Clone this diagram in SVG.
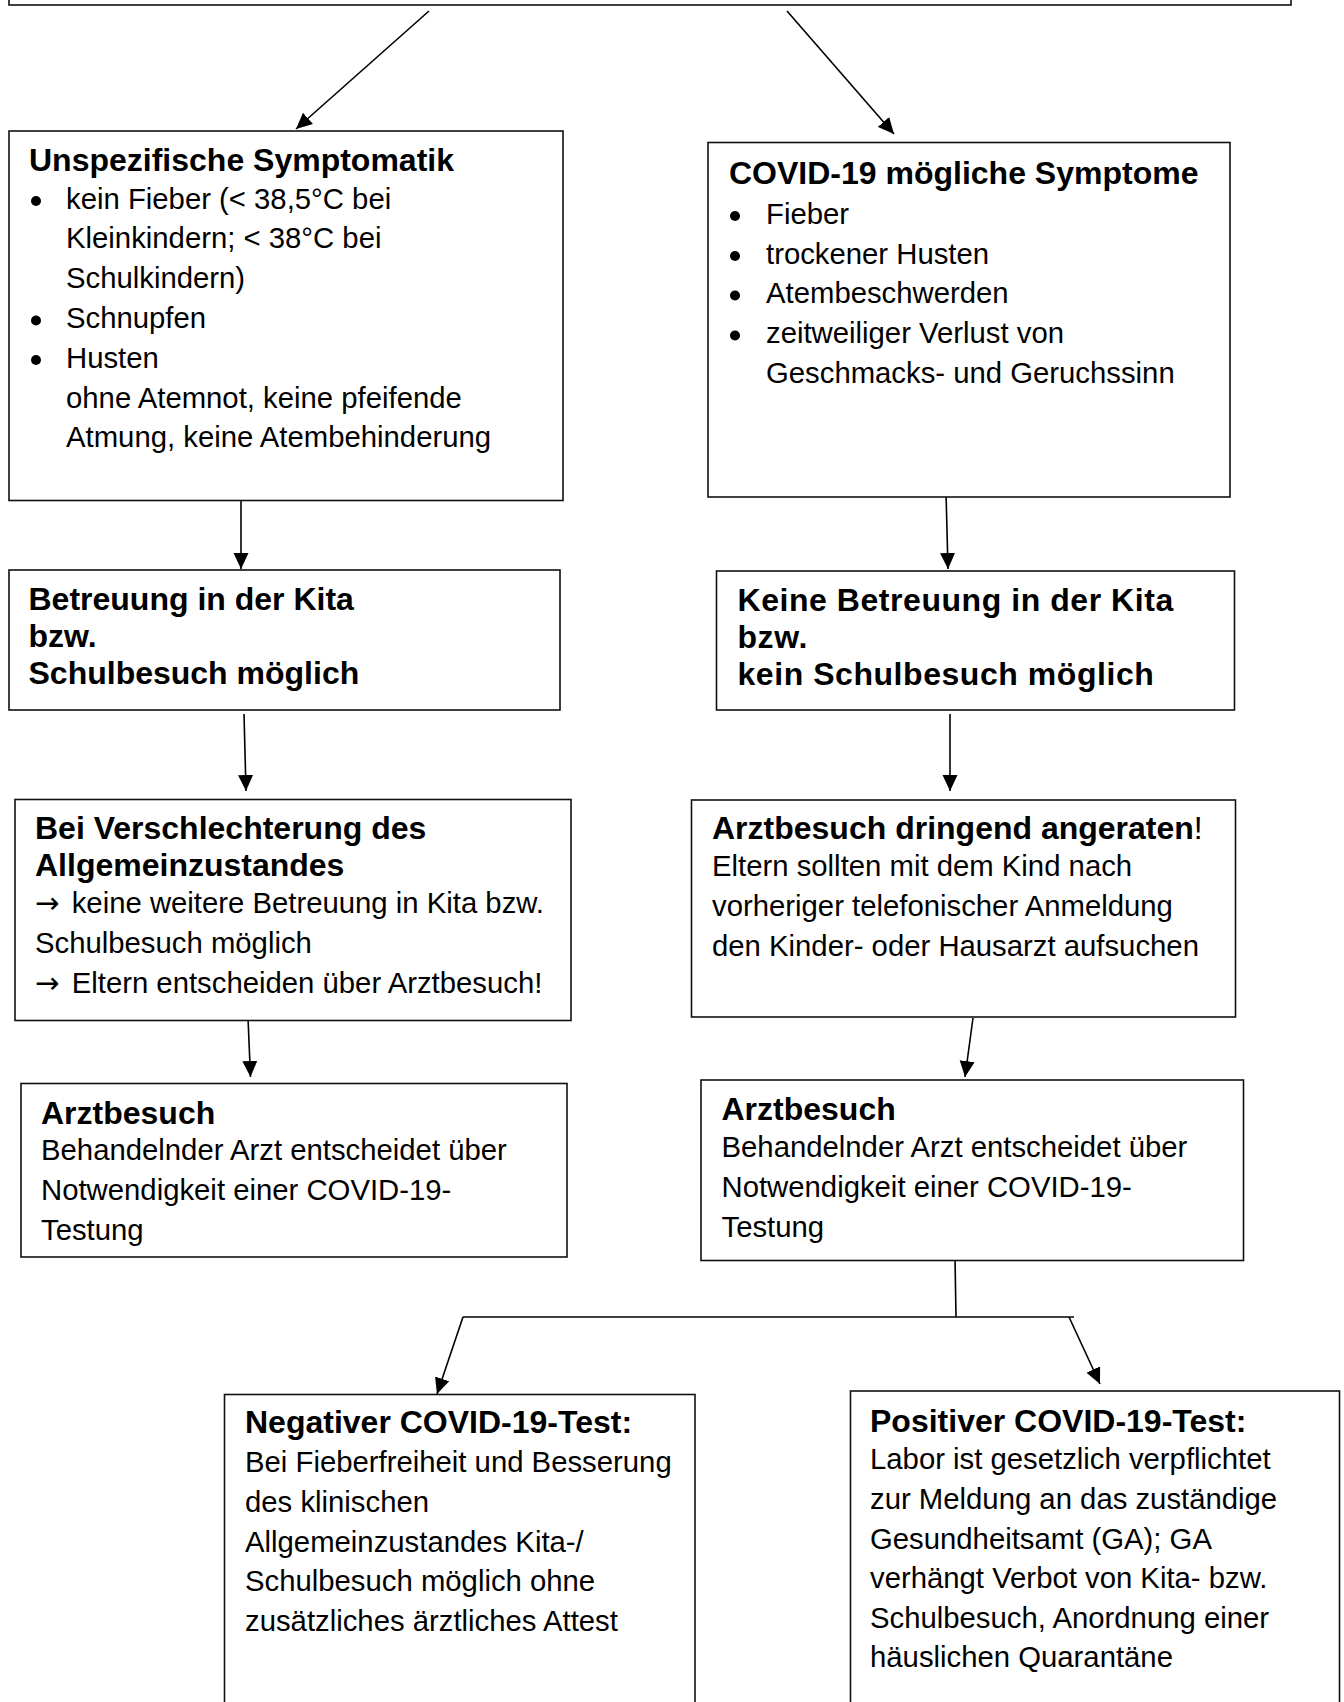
<svg xmlns="http://www.w3.org/2000/svg" width="1344" height="1702" viewBox="0 0 1344 1702">
<style>
.box{fill:#fff;stroke:#111;stroke-width:1.6}
.h{font-family:"Liberation Sans",Arial,sans-serif;font-weight:bold;font-size:32px;fill:#000}
.t{font-family:"Liberation Sans",Arial,sans-serif;font-size:29.3px;fill:#000}
.ar{font-family:"DejaVu Sans",sans-serif}
.con{stroke:#000;stroke-width:1.6;fill:none}
.bul{fill:#000}
</style>
<defs>
<marker id="arr" markerUnits="userSpaceOnUse" markerWidth="17" markerHeight="16" refX="16" refY="8" orient="auto">
<path d="M0,0.5 L16,8 L0,15.5 Z" fill="#000"/>
</marker>
</defs>
<rect width="1344" height="1702" fill="#fff"/>

<g id="top">
<rect class="box" x="9" y="-30" width="1282" height="35"/>
</g>

<g id="connectors">
<line class="con" x1="429" y1="11" x2="296" y2="129" marker-end="url(#arr)"/>
<line class="con" x1="787" y1="11" x2="894" y2="134" marker-end="url(#arr)"/>
<line class="con" x1="241" y1="500" x2="241" y2="569" marker-end="url(#arr)"/>
<line class="con" x1="946" y1="492" x2="948" y2="569" marker-end="url(#arr)"/>
<line class="con" x1="244" y1="714" x2="246" y2="791" marker-end="url(#arr)"/>
<line class="con" x1="950" y1="714" x2="950" y2="791" marker-end="url(#arr)"/>
<line class="con" x1="248" y1="1018" x2="250.5" y2="1077" marker-end="url(#arr)"/>
<line class="con" x1="973" y1="1018" x2="965" y2="1077" marker-end="url(#arr)"/>
<line class="con" x1="955" y1="1257" x2="956" y2="1317"/>
<line class="con" x1="463" y1="1317" x2="1074" y2="1317"/>
<line class="con" x1="463" y1="1317" x2="437" y2="1394" marker-end="url(#arr)"/>
<line class="con" x1="1069" y1="1317" x2="1100" y2="1384" marker-end="url(#arr)"/>
</g>

<g id="unspezifisch">
<rect class="box" x="9" y="131" width="554" height="369.5"/>
<text class="h" x="29" y="171">Unspezifische Symptomatik</text>
<circle class="bul" cx="36" cy="201" r="5"/>
<circle class="bul" cx="36" cy="320.5" r="5"/>
<circle class="bul" cx="36" cy="360" r="5"/>
<text class="t" x="66" y="208.5">kein Fieber (&lt; 38,5°C bei</text>
<text class="t" x="66" y="248.3">Kleinkindern; &lt; 38°C bei</text>
<text class="t" x="66" y="288">Schulkindern)</text>
<text class="t" x="66" y="328">Schnupfen</text>
<text class="t" x="66" y="367.7">Husten</text>
<text class="t" x="66" y="407.5">ohne Atemnot, keine pfeifende</text>
<text class="t" x="66" y="447.3">Atmung, keine Atembehinderung</text>
</g>

<g id="covid-symptome">
<rect class="box" x="708" y="142.5" width="522" height="354.5"/>
<text class="h" x="729" y="184">COVID-19 mögliche Symptome</text>
<circle class="bul" cx="735" cy="216" r="5"/>
<circle class="bul" cx="735" cy="256" r="5"/>
<circle class="bul" cx="735" cy="295.5" r="5"/>
<circle class="bul" cx="735" cy="335.5" r="5"/>
<text class="t" x="766" y="223.5">Fieber</text>
<text class="t" x="766" y="263.5">trockener Husten</text>
<text class="t" x="766" y="303">Atembeschwerden</text>
<text class="t" x="766" y="343">zeitweiliger Verlust von</text>
<text class="t" x="766" y="383">Geschmacks- und Geruchssinn</text>
</g>

<g id="betreuung">
<rect class="box" x="9" y="570" width="551" height="140"/>
<text class="h" x="28.5" y="610">Betreuung in der Kita</text>
<text class="h" x="28.5" y="647">bzw.</text>
<text class="h" x="28.5" y="684">Schulbesuch möglich</text>
</g>

<g id="keine-betreuung">
<rect class="box" x="716.5" y="571" width="518" height="139"/>
<text class="h" x="737.5" y="611" letter-spacing="0.55">Keine Betreuung in der Kita</text>
<text class="h" x="737.5" y="648" letter-spacing="0.55">bzw.</text>
<text class="h" x="737.5" y="685" letter-spacing="0.55">kein Schulbesuch möglich</text>
</g>

<g id="verschlechterung">
<rect class="box" x="15" y="799.5" width="556" height="221"/>
<text class="h" x="35" y="839">Bei Verschlechterung des</text>
<text class="h" x="35" y="875.5">Allgemeinzustandes</text>
<text class="t" x="35" y="913"><tspan class="ar">→</tspan><tspan dx="4"> keine weitere Betreuung in Kita bzw.</tspan></text>
<text class="t" x="35" y="953">Schulbesuch möglich</text>
<text class="t" x="35" y="993"><tspan class="ar">→</tspan><tspan dx="4"> Eltern entscheiden über Arztbesuch!</tspan></text>
</g>

<g id="arztbesuch-dringend">
<rect class="box" x="691.5" y="800" width="544" height="217"/>
<text class="h" x="712" y="839">Arztbesuch dringend angeraten<tspan font-weight="normal">!</tspan></text>
<text class="t" x="712" y="876">Eltern sollten mit dem Kind nach</text>
<text class="t" x="712" y="916">vorheriger telefonischer Anmeldung</text>
<text class="t" x="712" y="956">den Kinder- oder Hausarzt aufsuchen</text>
</g>

<g id="arztbesuch-links">
<rect class="box" x="21" y="1083.5" width="546" height="173.5"/>
<text class="h" x="41" y="1124">Arztbesuch</text>
<text class="t" x="41" y="1159.5">Behandelnder Arzt entscheidet über</text>
<text class="t" x="41" y="1199.5">Notwendigkeit einer COVID-19-</text>
<text class="t" x="41" y="1239.5">Testung</text>
</g>

<g id="arztbesuch-rechts">
<rect class="box" x="701" y="1080" width="542.5" height="180.5"/>
<text class="h" x="721.5" y="1120">Arztbesuch</text>
<text class="t" x="721.5" y="1157">Behandelnder Arzt entscheidet über</text>
<text class="t" x="721.5" y="1197">Notwendigkeit einer COVID-19-</text>
<text class="t" x="721.5" y="1237">Testung</text>
</g>

<g id="negativ">
<rect class="box" x="224.5" y="1394.5" width="470.5" height="340"/>
<text class="h" x="245" y="1433">Negativer COVID-19-Test:</text>
<text class="t" x="245" y="1472">Bei Fieberfreiheit und Besserung</text>
<text class="t" x="245" y="1512">des klinischen</text>
<text class="t" x="245" y="1551.5">Allgemeinzustandes Kita-/</text>
<text class="t" x="245" y="1591">Schulbesuch möglich ohne</text>
<text class="t" x="245" y="1631">zusätzliches ärztliches Attest</text>
</g>

<g id="positiv">
<rect class="box" x="850.5" y="1391" width="489" height="340"/>
<text class="h" x="870" y="1432">Positiver COVID-19-Test:</text>
<text class="t" x="870" y="1469">Labor ist gesetzlich verpflichtet</text>
<text class="t" x="870" y="1509">zur Meldung an das zuständige</text>
<text class="t" x="870" y="1548.5">Gesundheitsamt (GA); GA</text>
<text class="t" x="870" y="1588">verhängt Verbot von Kita- bzw.</text>
<text class="t" x="870" y="1628">Schulbesuch, Anordnung einer</text>
<text class="t" x="870" y="1667">häuslichen Quarantäne</text>
</g>
</svg>
